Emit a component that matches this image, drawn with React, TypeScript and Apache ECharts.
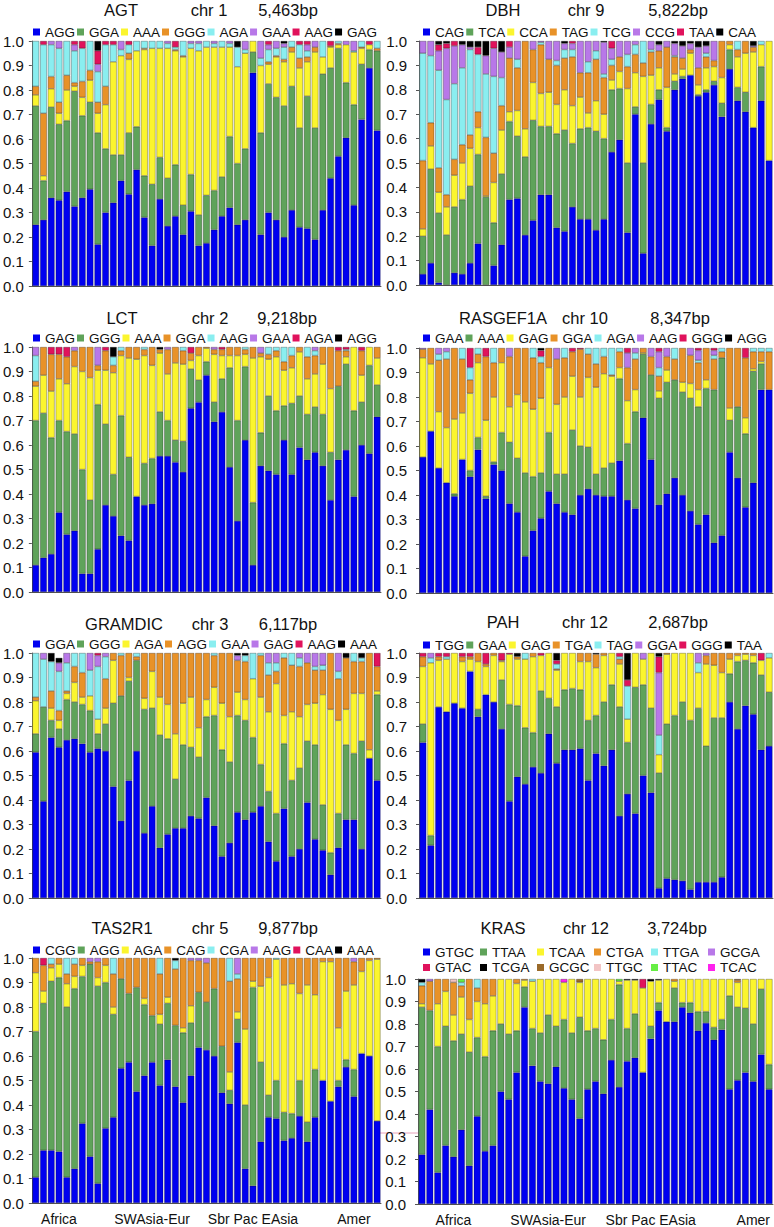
import { useEffect, useRef } from 'react';
import * as echarts from 'echarts';

const FONT = '"Liberation Sans", Arial, Helvetica, sans-serif';

const COLORS8 = ['#0000f0', '#5fa35a', '#fbf52e', '#e89228', '#8aeef0', '#b878e8', '#e0125c', '#000000'];
const KRAS_COLORS = [...COLORS8.slice(0, 6), '#e0125c', '#000000', '#9a6a2a', '#f2c4c4', '#66ee44', '#ff22ee'];

const REGIONS = ['Africa', 'SWAsia-Eur', 'Sbr Pac EAsia', 'Amer'];
const REGION_BAR_LEFT = [3, 15, 28, 41];
const REGION_BAR_RIGHT = [4, 16, 29, 42];

const AGT_HAPS = ['AGG', 'GGA', 'AAA', 'GGG', 'AGA', 'GAA', 'AAG', 'GAG'];
const AGT_ROWS = [
  [.25, .485, .045, .035, .185], [.27, .16, .02, .255, .28, 0, .015], [.36, .37, .075, .05, .13, .015], [.35, .31, .045, .045, .22, .03],
  [.385, .29, .125, .06, .14], [.325, .47, .02, .015, .13, .025, .015], [.36, .335, .075, .065, .135, 0, .03], [.395, .355, .09, .04, .12],
  [.17, .455, .08, .045, .125, .03, .055, .04], [.30, .26, .18, .075, .17, 0, .015],
  [.34, .195, .38, 0, .07, 0, .015], [.43, .105, .405, 0, .025, .035], [.375, .25, .30, .025, .035, 0, .015], [.475, .175, .31, 0, .04],
  [.28, .17, .515, .005, .03], [.165, .25, .555, 0, .03], [.355, .17, .445, 0, .03], [.245, .195, .53, 0, .02, .01],
  [.285, .21, .465, .005, .01, 0, .025], [.21, .12, .605, .005, .06],
  [.305, .15, .515, 0, .02, .01], [.165, .125, .67, 0, .03, .01], [.175, .195, .605, 0, .025], [.23, .16, .585, 0, .015, .01],
  [.285, .16, .53, 0, .025], [.32, .29, .365, 0, .015, .01], [.25, .25, .395, 0, .08, 0, 0, .025], [.27, .29, .39, 0, .015, .035],
  [.87, .085, .045], [.21, .415, .275, 0, .03, .07],
  [.30, .525, .08, .01, .05, .02, .015], [.27, .50, .165, .005, .03, .03], [.20, .535, .18, .01, .05, .015, 0, .01], [.31, .505, .14, .02, .025],
  [.24, .405, .245, .04, .055, 0, .015], [.235, .54, .14, .02, .025, .025, .015], [.19, .455, .31, .02, 0, .025], [.31, .555, .07, 0, .065],
  [.44, .45, .085, .005, 0, 0, .02], [.53, .44, .015, .005, .01],
  [.605, .225, .155, 0, 0, .015], [.33, .41, .215, 0, .005, .04], [.68, .225, .065, .005, .025], [.89, .075, .02, 0, 0, 0, .015],
  [.635, .325, 0, .01, .03],
];

const DBH_HAPS = ['CAG', 'TCA', 'CCA', 'TAG', 'TCG', 'CCG', 'TAA', 'CAA'];
const DBH_ROWS = [
  [.045, .155, .03, .28, .44, .05], [.09, .385, .095, .095, .275, .06], [.01, .285, .085, .10, .40, .08, .025, .015],
  [0, .205, .115, .05, .39, .21, .02, .01], [.05, .27, .13, .065, .31, .155, .02], [.045, .305, .15, .075, .315, .095, 0, .015],
  [.09, .315, .155, .055, .35, .01, 0, .025], [.17, .365, .11, .065, .235, 0, .03, .025], [0, .36, .005, .24, .26, .075, 0, .06],
  [.08, .175, .165, .12, .315, .115, .03],
  [.165, .29, .18, .10, .115, .105, 0, .045], [.35, .32, .04, .22, 0, .045, .025], [.355, .255, .105, .175, .035, .075],
  [.205, .32, .115, .36], [.265, .41, .155, .135, 0, .035], [.37, .28, .135, .20, .01, .005], [.37, .28, .14, .135, 0, .075],
  [.235, .385, .12, .16, .02, .08], [.22, .415, .165, .13, .035, .025, 0, .01], [.32, .26, .155, .20, .03, .025, .01],
  [.27, .37, .13, .10, 0, .13], [.27, .375, .06, .165, .045, .085], [.225, .405, .125, .17, .035, .04],
  [.27, .33, .10, .15, .015, .13, 0, .005], [.545, .255, .04, .06, .025, .045, .03], [.595, .21, .07, .06, 0, .065],
  [.215, .285, .305, .09, .05, .055], [.70, .03, .14, .075, .04, .015], [.13, .37, .355, .055, .09],
  [.66, .08, .12, .095, .01, .035],
  [.76, .04, .09, .07, 0, .025, 0, .015], [.63, .015, .165, .165, 0, .025], [.80, .035, .03, .07, .005, .05, 0, .01],
  [.845, .01, .03, .045, 0, .05, 0, .02], [.86, 0, .09, .015, 0, .025, 0, .01], [.775, .005, .04, .07, 0, .085, 0, .025],
  [.79, .01, .09, .045, .015, .03, 0, .02], [.82, .015, .06, .025, 0, .08], [.69, .055, .105, .15], [.885, .08, .02, .015],
  [.755, .055, .125, .03, .035], [.71, .08, .16, .05], [.645, 0, .31, .02, 0, .005, 0, .02], [.755, .14, .09, 0, .015],
  [.51, 0, .49],
];

const LCT_HAPS = ['GAG', 'GGG', 'AAA', 'GGA', 'AAG', 'GAA', 'AGA', 'AGG'];
const LCT_ROWS = [
  [.11, .59, .14, .02, .105, .035], [.14, .59, .155, .115], [.155, .475, .19, .15, 0, 0, .03], [.325, .375, .17, .10, 0, 0, .03],
  [.235, .42, .195, .11, 0, 0, .04], [.25, .395, .275, .065, 0, .015], [.075, .425, .40, .10], [.075, .30, .50, .125],
  [.175, .59, .14, .02, 0, .075], [.355, .33, .22, .08, 0, 0, .015],
  [.31, .17, .415, .03, .035, 0, 0, .04], [.23, .49, .245, .02, .015], [.21, .34, .405, .045], [.39, 0, .56, .05],
  [.355, .17, .44, .025, .01], [.36, .185, .38, .075], [.555, .18, .24, .015, 0, 0, 0, .01], [.555, .145, .19, .10, 0, .01],
  [.53, .09, .315, .065], [.49, .125, .315, .055, .015],
  [.75, .16, .035, .03, 0, 0, .025], [.775, .09, .10, .035], [.885, .055, .055, .005], [.695, .08, .195, .02, 0, .01],
  [.735, .135, .095, .025, 0, 0, .01], [.51, .405, .05, .035], [.29, .41, .265, .035], [.62, .30, .05, .02, .01],
  [.11, .255, .59, .045], [.515, .135, .31, .015, 0, .025],
  [.495, .305, .15, .02, .03], [.48, .26, .22, .025, .015], [.62, .14, .145, .035, .06], [.48, .29, .145, .05, .035],
  [.59, .21, .18, .02], [.54, .185, .145, .09, .04], [.57, .185, .135, .075, .02, .015], [.515, .21, .205, .07],
  [.375, .195, .26, .17], [.54, .30, 0, .145, 0, 0, .015],
  [.58, .35, .03, .025, .005, 0, .01], [.39, .35, .26], [.60, .175, .11, .10, 0, 0, .015], [.565, .36, .075],
  [.715, .13, .11, .045],
];

const RAS_HAPS = ['GAA', 'AAA', 'GAG', 'GGA', 'AGA', 'AAG', 'GGG', 'AGG'];
const RAS_ROWS = [
  [.555, 0, .405, .035, 0, .005], [.66, 0, .275, .065], [.51, 0, .23, .21, .025, .025], [.45, 0, .225, .28, .03, .015],
  [.395, .01, .305, .29], [.545, 0, .19, .22, .045], [.475, .025, .315, .055, .05, 0, .08], [.585, .05, .305, .035, .025],
  [.385, .01, .31, .26, 0, 0, .035], [.525, .01, .265, .14, .06],
  [.50, .155, .285, .06], [.365, .25, .145, .205, 0, .035], [.33, .22, .26, .19], [.15, .34, .29, .22],
  [.255, .22, .275, .21, .04], [.305, .185, .305, .145, .025, 0, .025, .01], [.415, .24, .265, .08], [.365, .12, .285, .185, 0, .045],
  [.33, .155, .315, .16, .04], [.32, .345, .22, .10, 0, 0, .015],
  [.40, .20, .20, .195, 0, 0, .005], [.425, .17, .285, .095, .025], [.40, .085, .355, .095, .065], [.395, .115, .385, .07, .035],
  [.395, .135, .355, .005, .11], [.54, .335, .045, .065, .015], [.38, .23, .175, .135, 0, .06, .02], [.345, .395, .09, .125, .025, .02],
  [.715, .26, .005, .02], [.545, .345, 0, .075, 0, .035],
  [.36, .435, .03, .06, .035, .065, .015], [.405, .455, .05, .055, 0, .035], [.47, .40, 0, .085, .045], [.40, .42, .04, .14],
  [.335, .46, .06, .115, 0, .03], [.28, .48, .07, .11, .01, .04, .01], [.32, .515, .035, .13], [.205, .625, 0, .125, .015, .02, .01],
  [.235, .725, 0, .025, .015], [.575, .13, .05, .245],
  [.47, .29, 0, .24], [.35, .30, .065, .245, 0, 0, .04], [.45, .455, .01, .07, .015], [.83, .105, .01, .04, .015],
  [.83, 0, 0, .155, .015],
];

const GRAM_HAPS = ['GGA', 'GGG', 'AGA', 'AGG', 'GAA', 'GAG', 'AAG', 'AAA'];
const GRAM_ROWS = [
  [.595, .075, .135, .015, .18], [.395, .385, 0, 0, .195, .025], [.655, .07, .05, .07, .12, 0, 0, .035],
  [.615, .075, .035, .04, .16, .035, 0, .02], [.645, .165, .025, .01, .115, .04], [.65, .15, .08, .065, .055],
  [.63, .16, .03, .10, .08], [.595, .17, .06, 0, .105, .07], [.61, .06, .06, 0, .215, .045, .01], [.60, .11, .065, .12, .09, .015],
  [.455, .34, .175, .03], [.315, .51, 0, .165, .01], [.48, .405, .015, .10], [.60, .37, 0, .015, .015],
  [.265, .505, .045, .185], [.375, .40, .15, .075], [.205, .46, .155, .18], [.26, .39, .14, .21],
  [.285, .20, .185, .33], [.285, .34, .17, .205],
  [.335, .28, .205, .18], [.325, .25, .12, .305], [.41, .33, .07, .19], [.295, .45, .115, .13, .01],
  [.17, .435, .19, .205], [.225, .33, .185, .26], [.35, .395, .095, .13, 0, .02, 0, .01], [.32, .405, .085, .155, .025, 0, 0, .01],
  [.35, .305, .24, 0, .105], [.375, .17, .275, .17, .01],
  [.23, .205, .325, .15, .05, .04], [.15, .195, .53, .05, .035, .04], [.365, .265, .115, .235, .02], [.17, .31, .28, .19, .05],
  [.20, .33, .21, .205, .035, .02], [.39, .25, .15, .17, 0, .04], [.24, .385, .17, .135, .015, .055], [.195, .185, .45, .10, .02, .05],
  [.095, .09, .585, .23], [.205, .14, .38, .17, .03, .075],
  [.32, .305, .145, .21, 0, 0, 0, .02], [.32, .27, .245, .13, .035], [.20, .44, .195, .13, .015, 0, 0, .02], [.57, 0, .035, .395],
  [.48, .35, .015, .10, 0, 0, .055],
];

const PAH_HAPS = ['TGG', 'GAA', 'GAG', 'TGA', 'TAG', 'GGA', 'GGG', 'TAA'];
const PAH_ROWS = [
  [.635, .075, .235, .04, 0, 0, .015], [.215, .04, .705, 0, .02, .02], [.78, 0, .19, .015, 0, 0, .015], [.76, 0, .215, 0, .01, 0, .015],
  [.795, 0, .205], [.775, 0, .19, .02, 0, 0, .015], [.925, 0, .05, .01, 0, 0, .015], [.74, .03, .195, .035],
  [.83, 0, .115, .01, 0, 0, .045], [.80, 0, .19, .01],
  [.69, .20, .075, .005, 0, 0, .03], [.395, .395, .205, 0, 0, 0, .005], [.495, .29, .19, .01, 0, 0, 0, .015], [.465, .23, .28, 0, .025],
  [.535, .14, .31, .015], [.51, .335, .145, 0, 0, 0, .01], [.67, .145, .185], [.55, .23, .15, .005, .02, 0, .015, .03],
  [.605, .245, .15], [.605, .25, .145],
  [.61, .24, .115, .035], [.48, .245, .24, .035], [.59, .155, .195, .055, 0, 0, 0, .005], [.54, .26, .19, .01],
  [.605, .265, .13], [.335, .445, .175, .02, .01, 0, .015], [.425, .21, .095, 0, .135, 0, .025, .11], [.345, .515, .14],
  [.50, .37, .105, 0, 0, .025], [.43, .345, .225],
  [.04, .47, .075, 0, .08, .255, .065, .015], [.08, .63, .285, .005], [.075, .67, .255], [.07, .73, .20],
  [.035, .69, .275], [.065, .71, .145, 0, .04, .04], [.065, .555, .335, .035, 0, .01], [.065, .67, .215, .05],
  [.085, .65, .185, .08], [.80, .115, .06, .025],
  [.69, .275, .025, .01], [.785, .185, .025, .005], [.75, .21, .03, .01], [.605, .305, .06, 0, 0, 0, .03],
  [.62, .22, .14, 0, .02],
];

const TAS_HAPS = ['CGG', 'AGG', 'AGA', 'CAG', 'CGA', 'AAG', 'CAA', 'AAA'];
const TAS_ROWS = [
  [.105, .595, .24, .06], [.215, .60, .05, .105, 0, 0, .03], [.215, .69, .055, .015, .025], [.21, .71, .055, .025],
  [.105, .695, .095, .04, .065], [.14, .735, .05, .05, .025], [.325, .60, .045, .03], [.19, .785, 0, .01, 0, .015],
  [.08, .805, .035, .065, 0, .015], [.305, .595, .07, .03],
  [.35, .42, .03, .135, .065], [.55, .365, 0, .085], [.575, .28, 0, .145], [.455, .425, 0, .12],
  [.52, .29, .025, .165], [.575, .19, 0, .235], [.48, .25, .04, .165, .065], [.585, .23, .025, .16],
  [.475, .25, 0, .23, .035, 0, 0, .01], [.41, .285, .02, .285],
  [.52, .215, .07, .185, 0, .01], [.635, .225, 0, .13, 0, .01], [.625, .195, 0, .16, 0, .02], [.60, .275, 0, .125],
  [.45, .19, 0, .36], [.405, .055, .075, .37, .095], [.655, .095, .03, .135, .02, .065], [.14, .26, .31, .29],
  [.07, .81, .025, .095], [.25, .325, .31, .115],
  [.35, .09, .48, .08], [.345, .155, .495, 0, .005], [.255, .115, .52, .11], [.265, .10, .53, .105],
  [.355, .145, .355, .145], [.25, .08, .56, .11], [.35, .195, .305, .15], [.50, 0, .485, .015],
  [.415, 0, .57, .015], [.475, .025, .215, .285],
  [.555, .03, .28, .135], [.435, .11, .345, .095, 0, .015], [.61, 0, .335, .055], [.60, 0, .39, .01],
  [.335, 0, .66, .005],
];

const KRAS_HAPS = ['GTGC', 'TTAA', 'TCAA', 'CTGA', 'TTGA', 'GCGA', 'GTAC', 'TCGA', 'GCGC', 'TTGC', 'TTAC', 'TCAC'];
const KRAS_ROWS = [
  [.22, .655, .015, .08, .015, 0, 0, .015], [.42, .44, 0, .13, 0, .01], [.14, .56, .19, .11], [.26, .53, .155, .055],
  [.21, .515, .115, .145, 0, 0, 0, 0, 0, .015], [.33, .425, .165, .05, .015, 0, 0, 0, 0, 0, .015], [.17, .505, .145, .18],
  [.39, .35, .16, .06, .04], [.235, .42, .235, .11], [.26, .51, .155, .075],
  [.50, .30, .20], [.465, .29, .245], [.585, .185, .21, .02], [.875, .09, .03, .005], [.615, .165, .21, 0, .01],
  [.545, .215, .24], [.535, .305, .16], [.61, .18, .21], [.515, .305, .165, 0, 0, 0, 0, 0, 0, 0, 0, .015], [.465, .295, .24],
  [.38, .45, .155, 0, 0, 0, 0, 0, .015], [.51, .26, .23], [.545, .235, .22], [.49, .24, .27], [.64, .18, .18],
  [.52, .455, .015, 0, 0, 0, 0, 0, 0, 0, .01], [.635, .145, .215, 0, 0, 0, 0, .005], [.65, .195, .15, 0, 0, 0, 0, .005],
  [.585, 0, .375, 0, 0, 0, .04], [.735, .055, .20, 0, 0, 0, 0, .01],
  [.86, .035, .10, 0, 0, 0, 0, .005], [.81, 0, .19], [.81, .15, .03, .01], [.875, .02, .105], [.85, .045, .105],
  [.77, .085, .145], [.805, .05, .145], [.73, .055, .215], [.775, .045, .18], [.51, .415, .075],
  [.55, .325, .11, .01, 0, 0, 0, 0, .005], [.585, .285, .13], [.545, .255, .20], [.665, .29, .045],
  [.51, .11, .38],
];

const PANELS = [
  { gene: 'AGT', chr: 'chr 1', len: '5,463bp', haps: AGT_HAPS, rows: AGT_ROWS, colors: COLORS8 },
  { gene: 'DBH', chr: 'chr 9', len: '5,822bp', haps: DBH_HAPS, rows: DBH_ROWS, colors: COLORS8 },
  { gene: 'LCT', chr: 'chr 2', len: '9,218bp', haps: LCT_HAPS, rows: LCT_ROWS, colors: COLORS8 },
  { gene: 'RASGEF1A', chr: 'chr 10', len: '8,347bp', haps: RAS_HAPS, rows: RAS_ROWS, colors: COLORS8 },
  { gene: 'GRAMDIC', chr: 'chr 3', len: '6,117bp', haps: GRAM_HAPS, rows: GRAM_ROWS, colors: COLORS8 },
  { gene: 'PAH', chr: 'chr 12', len: '2,687bp', haps: PAH_HAPS, rows: PAH_ROWS, colors: COLORS8 },
  { gene: 'TAS2R1', chr: 'chr 5', len: '9,877bp', haps: TAS_HAPS, rows: TAS_ROWS, colors: COLORS8 },
  { gene: 'KRAS', chr: 'chr 12', len: '3,724bp', haps: KRAS_HAPS, rows: KRAS_ROWS, colors: KRAS_COLORS },
];

// layout (pixels)
const GEOM = [
  { left: 30, top: 41, width: 351, height: 245, tY: 10, tX: [121, 209, 288], legY: 32, legX: 33 },
  { left: 419, top: 41, width: 354, height: 244, tY: 10, tX: [503, 586, 678], legY: 32, legX: 423 },
  { left: 30, top: 347, width: 351, height: 245, tY: 318, tX: [122, 210, 287], legY: 338, legX: 33 },
  { left: 419, top: 348, width: 354, height: 245, tY: 318, tX: [503, 585, 680], legY: 338, legX: 423 },
  { left: 30, top: 653, width: 351, height: 245, tY: 624, tX: [124, 210, 288], legY: 644, legX: 33 },
  { left: 419, top: 653, width: 354, height: 245, tY: 622, tX: [503, 585, 678], legY: 645, legX: 423 },
  { left: 30, top: 958, width: 351, height: 245, tY: 928, tX: [122, 210, 288], legY: 950, legX: 33 },
  { left: 418, top: 979, width: 355, height: 225, tY: 928, tX: [503, 586, 677], legY: 952, legX: 423 },
];

export default function App() {
  const ref = useRef<HTMLDivElement>(null);
  useEffect(() => {
    document.body.style.margin = '0';
    if (!ref.current) return;
    const chart = echarts.init(ref.current, undefined, { renderer: 'svg' });

    const grid: any[] = [];
    const xAxis: any[] = [];
    const yAxis: any[] = [];
    const series: any[] = [];
    const legend: any[] = [];
    const graphic: any[] = [];

    PANELS.forEach((p, i) => {
      const g = GEOM[i];
      const isRight = i % 2 === 1;
      const isBottom = i >= 6;
      grid.push({ left: g.left, top: g.top, width: g.width, height: g.height });
      const anchors = isRight ? REGION_BAR_RIGHT : REGION_BAR_LEFT;
      xAxis.push({
        type: 'category', gridIndex: i, data: p.rows.map((_, k) => String(k + 1)),
        axisTick: { show: false },
        axisLine: { show: true, lineStyle: { color: '#555', width: 1 } },
        axisLabel: {
          show: isBottom, interval: 0, margin: 9, fontSize: 14, color: '#111', fontFamily: FONT,
          formatter: (_v: string, idx: number) => { const j = anchors.indexOf(idx); return j >= 0 ? REGIONS[j] : ''; },
        },
      });
      yAxis.push({
        type: 'value', gridIndex: i, min: 0, max: 1, interval: 0.1,
        axisLine: { show: true, lineStyle: { color: '#666', width: 1 } },
        axisTick: { show: true, length: 3, lineStyle: { color: '#555' } },
        splitLine: { show: false },
        axisLabel: { formatter: (v: number) => v.toFixed(1), fontSize: 15, color: '#111', fontFamily: FONT, margin: isRight ? 12 : 8 },
      });
      p.haps.forEach((h, k) => {
        series.push({
          type: 'bar', name: `${p.gene}|${h}`, xAxisIndex: i, yAxisIndex: i, stack: `s${i}`,
          data: p.rows.map((r) => { const v = r[k] ?? 0; return v > 0 ? v : '-'; }),
          barCategoryGap: '13%',
          itemStyle: { color: p.colors[k], borderColor: 'rgba(0,0,0,0.55)', borderWidth: 0.5 },
          emphasis: { disabled: true }, silent: true,
        });
      });
      const legBase = {
        icon: 'rect', itemWidth: 7, itemHeight: 7, padding: 0, selectedMode: false,
        itemStyle: { borderWidth: 0 },
        formatter: (n: string) => n.split('|')[1],
        textStyle: { fontSize: 13.5, color: '#111', fontFamily: FONT, lineHeight: 14 },
      };
      if (p.gene === 'KRAS') {
        p.haps.forEach((h, k) => {
          const col = k % 6; const row = Math.floor(k / 6);
          legend.push({ ...legBase, data: [`${p.gene}|${h}`], left: g.legX + col * 57, top: g.legY + row * 15.5 - 7 });
        });
      } else {
        legend.push({ ...legBase, data: p.haps.map((h) => `${p.gene}|${h}`), left: g.legX, top: g.legY - 7, itemGap: 2 });
      }
      [p.gene, p.chr, p.len].forEach((t, j) => {
        graphic.push({
          type: 'text', x: g.tX[j], y: g.tY,
          style: { text: t, fontSize: 16.5, fontFamily: FONT, fill: '#111', align: 'center', verticalAlign: 'middle', textAlign: 'center', textVerticalAlign: 'middle' },
        });
      });
    });

    graphic.push({ type: 'line', shape: { x1: 379, y1: 1133, x2: 418, y2: 1133 }, style: { stroke: '#e8a2ba', lineWidth: 1 } });

    chart.setOption({
      animation: false,
      backgroundColor: '#ffffff',
      grid, xAxis, yAxis, series, legend, graphic,
    });
    return () => chart.dispose();
  }, []);
  return <div ref={ref} style={{ width: 774, height: 1227 }} />;
}
